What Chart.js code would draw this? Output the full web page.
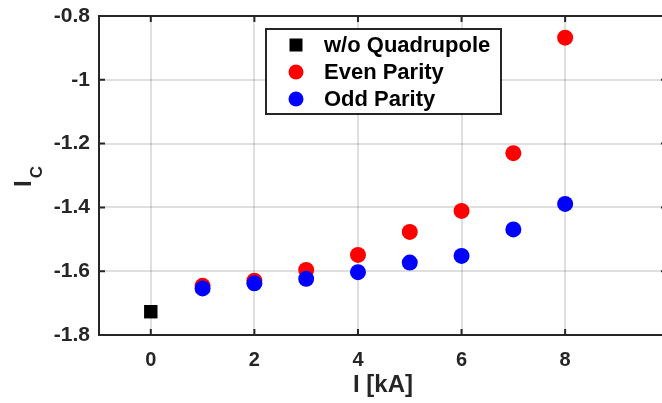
<!DOCTYPE html>
<html>
<head>
<meta charset="utf-8">
<script src="https://cdn.jsdelivr.net/npm/chart.js@4.4.0/dist/chart.umd.min.js"></script>
<style>
html,body{margin:0;padding:0;background:#fff;}
canvas{display:block;}
</style>
</head>
<body>
<canvas id="c" width="662" height="403"></canvas>
<script>
// ---- data ----
const seriesNames = ['w/o Quadrupole', 'Even Parity', 'Odd Parity'];
const noQuadX = [0];
const noQuadY = [-1.727];
const currentKA = [1, 2, 3, 4, 5, 6, 7, 8];
const evenParity = [-1.646, -1.630, -1.596, -1.549, -1.477, -1.411, -1.230, -0.868];
const oddParity  = [-1.654, -1.638, -1.624, -1.603, -1.573, -1.552, -1.469, -1.389];
const xTicks = [0, 2, 4, 6, 8];
const yTicks = [-1.8, -1.6, -1.4, -1.2, -1.0, -0.8];

const toPts = (xs, ys) => xs.map((x, i) => ({x: x, y: ys[i]}));

const AX = '#262626';
const FONT = '"Liberation Sans", Arial, sans-serif';

const frame = {
  id: 'frame',
  afterDatasetsDraw(chart) {
    const ctx = chart.ctx, a = chart.chartArea;
    const xs = chart.scales.x, ys = chart.scales.y;
    ctx.save();
    ctx.strokeStyle = AX;
    ctx.lineWidth = 2;
    // top border
    ctx.beginPath(); ctx.moveTo(a.left - 1, a.top); ctx.lineTo(a.right, a.top); ctx.stroke();
    // inward ticks
    ctx.beginPath();
    xTicks.forEach(v => {
      const p = xs.getPixelForValue(v);
      ctx.moveTo(p, a.bottom); ctx.lineTo(p, a.bottom - 6);
      ctx.moveTo(p, a.top); ctx.lineTo(p, a.top + 6);
    });
    yTicks.forEach(v => {
      const p = ys.getPixelForValue(v);
      ctx.moveTo(a.left, p); ctx.lineTo(a.left + 6, p);
      ctx.moveTo(a.right - 1, p); ctx.lineTo(a.right, p);
    });
    ctx.stroke();

    // legend box
    const bx = 266, by = 29, bw = 235, bh = 85;
    ctx.fillStyle = '#fff';
    ctx.fillRect(bx, by, bw, bh);
    ctx.strokeStyle = '#262626';
    ctx.lineWidth = 2;
    ctx.strokeRect(bx, by, bw, bh);
    const rows = [45, 72, 99];
    const mx = 296, tx = 324;
    // markers
    ctx.fillStyle = '#000';
    ctx.fillRect(mx - 6.5, rows[0] - 6.5, 13, 13);
    ctx.fillStyle = '#ff0000';
    ctx.beginPath(); ctx.arc(mx, rows[1], 7.5, 0, Math.PI * 2); ctx.fill();
    ctx.fillStyle = '#0000ff';
    ctx.beginPath(); ctx.arc(mx, rows[2], 7.5, 0, Math.PI * 2); ctx.fill();
    ctx.fillStyle = '#000';
    ctx.font = 'bold 22px ' + FONT;
    ctx.textAlign = 'left';
    ctx.textBaseline = 'middle';
    seriesNames.forEach((n, i) => ctx.fillText(n, tx, rows[i] + 1));

    // y axis title  I_C (rotated)
    ctx.save();
    ctx.fillStyle = AX;
    ctx.translate(31, 187);
    ctx.rotate(-Math.PI / 2);
    ctx.textAlign = 'left';
    ctx.textBaseline = 'alphabetic';
    ctx.font = 'bold 24px ' + FONT;
    ctx.fillText('I', 0, 0);
    const wI = ctx.measureText('I').width;
    ctx.font = 'bold 17px ' + FONT;
    ctx.fillText('C', wI + 2, 11);
    ctx.restore();

    // x axis title
    ctx.fillStyle = AX;
    ctx.font = 'bold 24px ' + FONT;
    ctx.textAlign = 'center';
    ctx.textBaseline = 'alphabetic';
    ctx.fillText('I [kA]', 383, 392);
    ctx.restore();
  }
};

const zeroPad = s => { s.paddingLeft = 0; s.paddingRight = 0; s.paddingTop = 0; s.paddingBottom = 0; };

new Chart(document.getElementById('c'), {
  type: 'scatter',
  data: {
    datasets: [
      {label: seriesNames[0], data: toPts(noQuadX, noQuadY), pointStyle: 'rect', pointRadius: 9.5,
       backgroundColor: '#000', borderColor: '#000', borderWidth: 0, order: 2},
      {label: seriesNames[1], data: toPts(currentKA, evenParity), pointStyle: 'circle', pointRadius: 8,
       backgroundColor: '#ff0000', borderColor: '#ff0000', borderWidth: 0, order: 1},
      {label: seriesNames[2], data: toPts(currentKA, oddParity), pointStyle: 'circle', pointRadius: 8,
       backgroundColor: '#0000ff', borderColor: '#0000ff', borderWidth: 0, order: 0}
    ]
  },
  options: {
    responsive: false,
    animation: false,
    devicePixelRatio: 1,
    layout: {autoPadding: false, padding: {left: 0, right: 0, top: 16, bottom: 0}},
    plugins: {legend: {display: false}, tooltip: {enabled: false}},
    scales: {
      x: {
        type: 'linear', min: -1, max: 9.87,
        afterBuildTicks: s => { s.ticks = xTicks.map(v => ({value: v})); },
        afterFit: s => { s.height = 68; zeroPad(s); },
        grid: {color: 'rgba(38,38,38,0.15)', lineWidth: 2, drawTicks: false},
        border: {display: true, color: AX, width: 2},
        ticks: {color: AX, font: {family: FONT, size: 20, weight: 'bold'}, padding: 13,
                callback: v => String(v)}
      },
      y: {
        type: 'linear', min: -1.8, max: -0.8,
        afterBuildTicks: s => { s.ticks = yTicks.map(v => ({value: v})); },
        afterFit: s => { s.width = 99; zeroPad(s); },
        grid: {color: 'rgba(38,38,38,0.15)', lineWidth: 2, drawTicks: false},
        border: {display: true, color: AX, width: 2},
        ticks: {color: AX, font: {family: FONT, size: 21, weight: 'bold'}, padding: 9,
                callback: v => String(Math.round(v * 10) / 10)}
      }
    }
  },
  plugins: [frame]
});
</script>
</body>
</html>
